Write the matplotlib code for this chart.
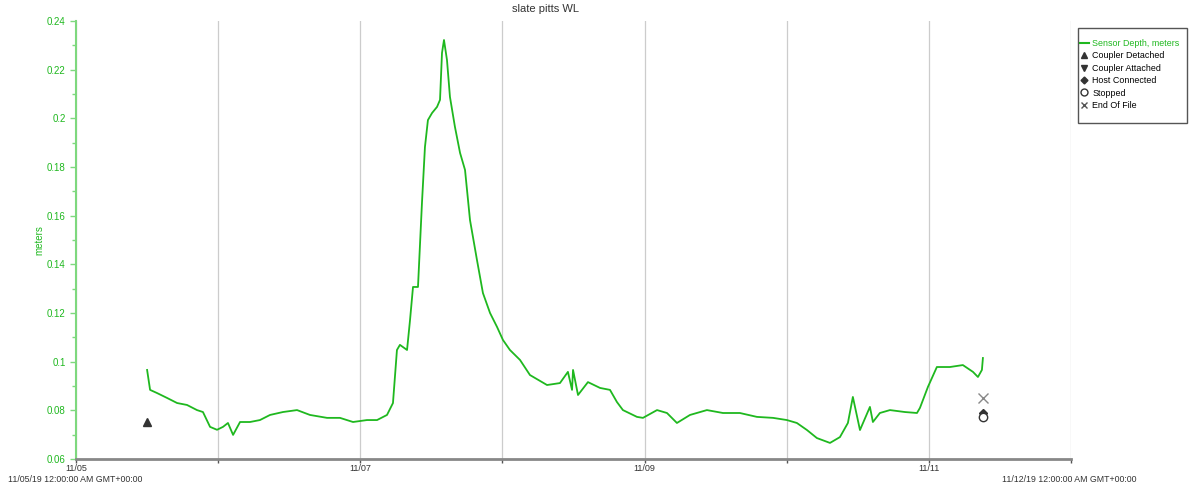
import matplotlib
matplotlib.use("Agg")
import matplotlib.pyplot as plt
import matplotlib.dates as mdates
from matplotlib.lines import Line2D
from matplotlib.patches import Rectangle
import pandas as pd

plt.rcParams["font.family"] = ["Liberation Sans", "DejaVu Sans"]

start = pd.Timestamp("2019-11-05")

# days since 11/05 00:00 and sensor depth (m)
days = [0.500, 0.521, 0.570, 0.640, 0.711, 0.781, 0.851, 0.893, 0.943, 0.992,
        1.034, 1.069, 1.105, 1.154, 1.224, 1.294, 1.365, 1.456, 1.555, 1.646,
        1.766, 1.857, 1.949, 2.047, 2.118, 2.188, 2.230, 2.258, 2.279, 2.329,
        2.350, 2.371, 2.406, 2.434, 2.455, 2.476, 2.505, 2.540, 2.561, 2.575,
        2.589, 2.610, 2.631, 2.666, 2.702, 2.737, 2.772, 2.821, 2.863, 2.913,
        2.962, 3.004, 3.053, 3.124, 3.194, 3.314, 3.405, 3.461, 3.490, 3.497,
        3.532, 3.602, 3.687, 3.757, 3.806, 3.848, 3.947, 3.989, 4.088, 4.158,
        4.228, 4.320, 4.439, 4.552, 4.671, 4.791, 4.904, 5.002, 5.072, 5.143,
        5.213, 5.305, 5.375, 5.431, 5.466, 5.516, 5.586, 5.607, 5.656, 5.727,
        5.832, 5.917, 5.938, 5.994, 6.057, 6.149, 6.240, 6.311, 6.346, 6.374,
        6.381]
depth = [0.0966, 0.0884, 0.0871, 0.0851, 0.0830, 0.0822, 0.0801, 0.0793, 0.0732, 0.0720,
         0.0732, 0.0748, 0.0699, 0.0752, 0.0752, 0.0760, 0.0781, 0.0793, 0.0801, 0.0781,
         0.0769, 0.0769, 0.0752, 0.0760, 0.0760, 0.0781, 0.0830, 0.1048, 0.1069, 0.1048,
         0.1171, 0.1307, 0.1307, 0.1652, 0.1882, 0.1993, 0.2022, 0.2047, 0.2076, 0.2269,
         0.2322, 0.2240, 0.2088, 0.1965, 0.1858, 0.1788, 0.1582, 0.1418, 0.1282, 0.1200,
         0.1143, 0.1089, 0.1048, 0.1007, 0.0945, 0.0904, 0.0912, 0.0958, 0.0884, 0.0966,
         0.0863, 0.0916, 0.0892, 0.0884, 0.0834, 0.0801, 0.0773, 0.0769, 0.0801, 0.0789,
         0.0748, 0.0781, 0.0801, 0.0789, 0.0789, 0.0773, 0.0769, 0.0760, 0.0748, 0.0719,
         0.0686, 0.0666, 0.0690, 0.0748, 0.0855, 0.0719, 0.0814, 0.0752, 0.0789, 0.0801,
         0.0793, 0.0789, 0.0810, 0.0896, 0.0978, 0.0978, 0.0986, 0.0958, 0.0937, 0.0966,
         0.1015]

# event markers
event_names = ["Coupler Detached", "Host Connected", "Stopped", "End Of File"]
event_days = [0.500, 6.381, 6.381, 6.381]
event_vals = [0.0752, 0.0788, 0.0772, 0.0851]

green = "#1fb81f"
axis_green = "#7ed87e"

times = start + pd.to_timedelta(days, unit="D")
ev_times = start + pd.to_timedelta(event_days, unit="D")

fig = plt.figure(figsize=(11.9, 4.91), dpi=100)
ax = fig.add_axes([0.0639, 0.0652, 0.836, 0.892])

ax.plot(times, depth, color=green, lw=1.3, zorder=3)

ax.plot(ev_times[0], event_vals[0], marker="^", color="#333333", ms=6, ls="none", zorder=4)
ax.plot(ev_times[1], event_vals[1], marker="D", color="#333333", ms=4, ls="none", zorder=4)
ax.plot(ev_times[2], event_vals[2], marker="o", mfc="white", mec="#333333", ms=6, ls="none", zorder=5)
ax.plot(ev_times[3], event_vals[3], marker="x", color="#888888", ms=7, mew=1, ls="none", zorder=4)

ax.set_xlim(start, start + pd.Timedelta(days=7))
ax.set_ylim(0.06, 0.24)

ax.xaxis.set_major_locator(mdates.DayLocator(bymonthday=[5, 7, 9, 11]))
ax.xaxis.set_minor_locator(mdates.DayLocator())
ax.xaxis.set_major_formatter(mdates.DateFormatter("%m/%d"))
ax.yaxis.set_major_locator(plt.MultipleLocator(0.02))
ax.yaxis.set_minor_locator(plt.MultipleLocator(0.01))
ax.yaxis.set_major_formatter(plt.FuncFormatter(lambda v, p: f"{v:.2f}".rstrip("0") if v else "0"))

ax.grid(True, which="both", axis="x", color="#cccccc", lw=0.9)
ax.set_axisbelow(True)

for s in ["top", "right"]:
    ax.spines[s].set_visible(False)
ax.spines["left"].set_color(axis_green)
ax.spines["left"].set_linewidth(1.5)
ax.spines["bottom"].set_color("#888888")
ax.spines["bottom"].set_linewidth(2)

ax.tick_params(axis="y", which="both", colors=axis_green, labelcolor=green, labelsize=7, length=4, width=1)
ax.tick_params(axis="y", which="minor", length=3)
ax.tick_params(axis="x", which="both", colors="#555555", labelcolor="#333333", labelsize=6.5,
               length=3, width=1, pad=0.5)

ax.set_ylabel("meters", color=green, fontsize=7, labelpad=2)

fig.text(0.458, 0.982, "slate pitts WL", ha="center", va="center", fontsize=8, color="#333333")
fig.text(0.007, 0.024, "11/05/19 12:00:00 AM GMT+00:00", ha="left", va="center", fontsize=6.3, color="#333333")
fig.text(0.842, 0.024, "11/12/19 12:00:00 AM GMT+00:00", ha="left", va="center", fontsize=6.3, color="#333333")

handles = [
    Line2D([], [], color=green, lw=1.5),
    Line2D([], [], marker="^", color="#333333", ls="none", ms=5),
    Line2D([], [], marker="v", color="#333333", ls="none", ms=5),
    Line2D([], [], marker="D", color="#333333", ls="none", ms=3.5),
    Line2D([], [], marker="o", mfc="white", mec="#333333", ls="none", ms=5),
    Line2D([], [], marker="x", color="#555555", ls="none", ms=5),
]
labels = ["Sensor Depth, meters", "Coupler Detached", "Coupler Attached",
          "Host Connected", "Stopped", "End Of File"]
leg = fig.legend(handles, labels, loc="upper left", bbox_to_anchor=(1080 / 1190, 1 - 39 / 491),
                 fontsize=6.4, frameon=False, handlelength=1.0,
                 handletextpad=0.4, labelspacing=0.38, borderpad=0, borderaxespad=0)
leg.get_texts()[0].set_color(green)
fig.patches.append(Rectangle((1078 / 1190, 1 - 123 / 491), 109 / 1190, 95 / 491,
                             transform=fig.transFigure, fill=False, ec="#555555", lw=1))

fig.savefig("out.png", dpi=100)
